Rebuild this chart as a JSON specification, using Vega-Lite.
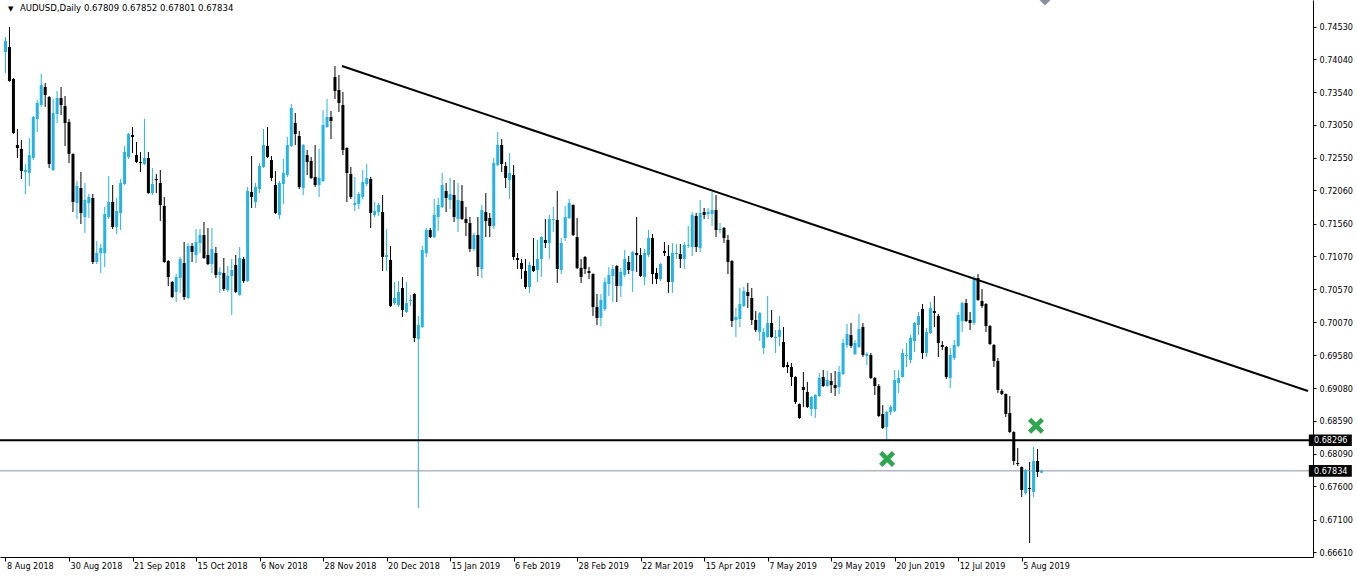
{
"$schema": "https://vega.github.io/schema/vega-lite/v6.json",
"width": 1313,
"height": 557,
"padding": {"left": 0, "top": 0, "right": 44, "bottom": 20},
"autosize": {"type": "none"},
"background": "white",
"config": {
  "view": {"stroke": null},
  "axis": {"grid": false, "domainColor": "#000000", "tickColor": "#000000", "labelColor": "#000000", "labelFont": "DejaVu Sans Condensed, Liberation Sans, sans-serif", "labelFontSize": 9, "domainWidth": 1, "tickWidth": 1, "labelOverlap": false}
},
"datasets": {
  "candles": [
{"k":0,"o":0.74146,"h":0.74372,"l":0.7383,"c":0.74312},
{"k":1,"o":0.74222,"h":0.74523,"l":0.737,"c":0.73709},
{"k":2,"o":0.73739,"h":0.73755,"l":0.72911,"c":0.72926},
{"k":3,"o":0.72745,"h":0.72986,"l":0.72549,"c":0.727},
{"k":4,"o":0.72685,"h":0.7282,"l":0.72232,"c":0.72353},
{"k":5,"o":0.72338,"h":0.72458,"l":0.72006,"c":0.72368},
{"k":6,"o":0.72323,"h":0.7285,"l":0.72127,"c":0.72594},
{"k":7,"o":0.72549,"h":0.73182,"l":0.72519,"c":0.73167},
{"k":8,"o":0.73137,"h":0.73423,"l":0.72941,"c":0.73378},
{"k":9,"o":0.73348,"h":0.73815,"l":0.73318,"c":0.73649},
{"k":10,"o":0.73619,"h":0.73679,"l":0.73318,"c":0.73498},
{"k":11,"o":0.73468,"h":0.73483,"l":0.72398,"c":0.72458},
{"k":12,"o":0.72368,"h":0.73438,"l":0.72353,"c":0.73227},
{"k":13,"o":0.73212,"h":0.73559,"l":0.73076,"c":0.73453},
{"k":14,"o":0.73453,"h":0.73619,"l":0.73197,"c":0.73348},
{"k":15,"o":0.73333,"h":0.73483,"l":0.7273,"c":0.73076},
{"k":16,"o":0.73091,"h":0.73137,"l":0.72474,"c":0.72609},
{"k":17,"o":0.72609,"h":0.7262,"l":0.71735,"c":0.71886},
{"k":18,"o":0.71871,"h":0.72202,"l":0.7163,"c":0.72127},
{"k":19,"o":0.72097,"h":0.72338,"l":0.71554,"c":0.7172},
{"k":20,"o":0.7166,"h":0.72172,"l":0.71419,"c":0.71916},
{"k":21,"o":0.71871,"h":0.72006,"l":0.71645,"c":0.71961},
{"k":22,"o":0.71946,"h":0.72006,"l":0.70951,"c":0.70981},
{"k":23,"o":0.70981,"h":0.71298,"l":0.70951,"c":0.71117},
{"k":24,"o":0.71117,"h":0.71253,"l":0.70816,"c":0.71193},
{"k":25,"o":0.71117,"h":0.71811,"l":0.70906,"c":0.71705},
{"k":26,"o":0.7166,"h":0.72278,"l":0.7163,"c":0.71886},
{"k":27,"o":0.71886,"h":0.72142,"l":0.71479,"c":0.71509},
{"k":28,"o":0.71509,"h":0.71946,"l":0.71404,"c":0.7175},
{"k":29,"o":0.7172,"h":0.72232,"l":0.71464,"c":0.72172},
{"k":30,"o":0.72157,"h":0.7273,"l":0.72142,"c":0.72639},
{"k":31,"o":0.72564,"h":0.72926,"l":0.72534,"c":0.72911},
{"k":32,"o":0.72896,"h":0.73016,"l":0.72624,"c":0.72865},
{"k":33,"o":0.72594,"h":0.7279,"l":0.72474,"c":0.72489},
{"k":34,"o":0.72489,"h":0.72639,"l":0.72338,"c":0.72474},
{"k":35,"o":0.72458,"h":0.73137,"l":0.72443,"c":0.72549},
{"k":36,"o":0.72549,"h":0.72639,"l":0.7201,"c":0.72021},
{"k":37,"o":0.72021,"h":0.72398,"l":0.71991,"c":0.72157},
{"k":38,"o":0.72232,"h":0.72308,"l":0.72021,"c":0.72217},
{"k":39,"o":0.72172,"h":0.72368,"l":0.716,"c":0.71841},
{"k":40,"o":0.71826,"h":0.71961,"l":0.7097,"c":0.70981},
{"k":41,"o":0.70997,"h":0.7101,"l":0.7062,"c":0.70756},
{"k":42,"o":0.7068,"h":0.70695,"l":0.7044,"c":0.70454},
{"k":43,"o":0.7053,"h":0.70801,"l":0.70379,"c":0.70756},
{"k":44,"o":0.70741,"h":0.71057,"l":0.70515,"c":0.71027},
{"k":45,"o":0.70966,"h":0.71283,"l":0.70409,"c":0.70454},
{"k":46,"o":0.70439,"h":0.71268,"l":0.70424,"c":0.71223},
{"k":47,"o":0.71223,"h":0.71268,"l":0.70981,"c":0.71133},
{"k":48,"o":0.71087,"h":0.71479,"l":0.70966,"c":0.71283},
{"k":49,"o":0.71268,"h":0.71479,"l":0.71117,"c":0.71389},
{"k":50,"o":0.71389,"h":0.71585,"l":0.71027,"c":0.71042},
{"k":51,"o":0.71087,"h":0.71494,"l":0.70936,"c":0.70951},
{"k":52,"o":0.70951,"h":0.71494,"l":0.70816,"c":0.71178},
{"k":53,"o":0.71117,"h":0.71208,"l":0.70741,"c":0.70786},
{"k":54,"o":0.70786,"h":0.70906,"l":0.70515,"c":0.70831},
{"k":55,"o":0.70816,"h":0.71042,"l":0.70545,"c":0.70575},
{"k":56,"o":0.7056,"h":0.70921,"l":0.7053,"c":0.70771},
{"k":57,"o":0.70771,"h":0.71027,"l":0.70183,"c":0.70861},
{"k":58,"o":0.70936,"h":0.71087,"l":0.70515,"c":0.7053},
{"k":59,"o":0.70485,"h":0.71208,"l":0.70475,"c":0.71042},
{"k":60,"o":0.71027,"h":0.71057,"l":0.70665,"c":0.70696},
{"k":61,"o":0.70696,"h":0.72112,"l":0.7068,"c":0.72052},
{"k":62,"o":0.72036,"h":0.72579,"l":0.71796,"c":0.71961},
{"k":63,"o":0.71886,"h":0.72172,"l":0.71796,"c":0.72112},
{"k":64,"o":0.72082,"h":0.72474,"l":0.72021,"c":0.72428},
{"k":65,"o":0.72413,"h":0.72986,"l":0.724,"c":0.72745},
{"k":66,"o":0.7273,"h":0.73016,"l":0.72549,"c":0.72564},
{"k":67,"o":0.72519,"h":0.72579,"l":0.72202,"c":0.72248},
{"k":68,"o":0.72142,"h":0.72353,"l":0.71705,"c":0.7172},
{"k":69,"o":0.7169,"h":0.72202,"l":0.7163,"c":0.72172},
{"k":70,"o":0.72157,"h":0.72534,"l":0.71856,"c":0.72323},
{"k":71,"o":0.72293,"h":0.72865,"l":0.72263,"c":0.72745},
{"k":72,"o":0.7273,"h":0.73363,"l":0.72715,"c":0.73303},
{"k":73,"o":0.73076,"h":0.73227,"l":0.72745,"c":0.72911},
{"k":74,"o":0.7288,"h":0.72956,"l":0.72082,"c":0.72112},
{"k":75,"o":0.72097,"h":0.7276,"l":0.71991,"c":0.72745},
{"k":76,"o":0.72594,"h":0.7267,"l":0.72293,"c":0.72489},
{"k":77,"o":0.72504,"h":0.72564,"l":0.72232,"c":0.72248},
{"k":78,"o":0.72263,"h":0.72745,"l":0.72112,"c":0.72142},
{"k":79,"o":0.72142,"h":0.72685,"l":0.71961,"c":0.72248},
{"k":80,"o":0.72202,"h":0.73272,"l":0.72187,"c":0.73046},
{"k":81,"o":0.73016,"h":0.73438,"l":0.73005,"c":0.73167},
{"k":82,"o":0.73167,"h":0.73257,"l":0.72835,"c":0.73107},
{"k":83,"o":0.7377,"h":0.73935,"l":0.73438,"c":0.73559},
{"k":84,"o":0.73574,"h":0.738,"l":0.73242,"c":0.73378},
{"k":85,"o":0.73348,"h":0.73544,"l":0.72594,"c":0.7267},
{"k":86,"o":0.727,"h":0.7271,"l":0.71886,"c":0.72323},
{"k":87,"o":0.72308,"h":0.72413,"l":0.71931,"c":0.71961},
{"k":88,"o":0.71841,"h":0.72263,"l":0.7175,"c":0.71871},
{"k":89,"o":0.71856,"h":0.72036,"l":0.7178,"c":0.72006},
{"k":90,"o":0.71961,"h":0.72368,"l":0.71931,"c":0.72187},
{"k":91,"o":0.72157,"h":0.72458,"l":0.72127,"c":0.72248},
{"k":92,"o":0.72232,"h":0.72263,"l":0.71494,"c":0.7172},
{"k":93,"o":0.7169,"h":0.71886,"l":0.7166,"c":0.7175},
{"k":94,"o":0.71735,"h":0.71871,"l":0.71675,"c":0.71841},
{"k":95,"o":0.71735,"h":0.71991,"l":0.70846,"c":0.71057},
{"k":96,"o":0.71057,"h":0.71479,"l":0.70846,"c":0.71087},
{"k":97,"o":0.71012,"h":0.71223,"l":0.70303,"c":0.70318},
{"k":98,"o":0.70364,"h":0.7068,"l":0.70334,"c":0.70439},
{"k":99,"o":0.70334,"h":0.70696,"l":0.70303,"c":0.7053},
{"k":100,"o":0.7059,"h":0.70756,"l":0.70153,"c":0.70258},
{"k":101,"o":0.70228,"h":0.7068,"l":0.70213,"c":0.70364},
{"k":102,"o":0.70394,"h":0.70485,"l":0.70318,"c":0.70409},
{"k":103,"o":0.705,"h":0.7051,"l":0.69776,"c":0.69837},
{"k":104,"o":0.69822,"h":0.70168,"l":0.67274,"c":0.70032},
{"k":105,"o":0.70002,"h":0.71223,"l":0.69987,"c":0.71163},
{"k":106,"o":0.71117,"h":0.71494,"l":0.71057,"c":0.71464},
{"k":107,"o":0.71464,"h":0.71494,"l":0.71343,"c":0.71358},
{"k":108,"o":0.71358,"h":0.71931,"l":0.71343,"c":0.7169},
{"k":109,"o":0.7166,"h":0.71946,"l":0.71449,"c":0.71841},
{"k":110,"o":0.71811,"h":0.72323,"l":0.71796,"c":0.72142},
{"k":111,"o":0.72052,"h":0.72172,"l":0.71735,"c":0.71946},
{"k":112,"o":0.71916,"h":0.72248,"l":0.7178,"c":0.72006},
{"k":113,"o":0.71991,"h":0.72217,"l":0.71585,"c":0.7166},
{"k":114,"o":0.7163,"h":0.72172,"l":0.71434,"c":0.71916},
{"k":115,"o":0.71901,"h":0.72142,"l":0.71615,"c":0.7163},
{"k":116,"o":0.7163,"h":0.71811,"l":0.71373,"c":0.7157},
{"k":117,"o":0.7157,"h":0.7166,"l":0.71133,"c":0.71178},
{"k":118,"o":0.71178,"h":0.71419,"l":0.71148,"c":0.71389},
{"k":119,"o":0.71389,"h":0.7166,"l":0.70771,"c":0.70906},
{"k":120,"o":0.70876,"h":0.71841,"l":0.70741,"c":0.71765},
{"k":121,"o":0.71735,"h":0.72021,"l":0.71358,"c":0.716},
{"k":122,"o":0.71645,"h":0.7172,"l":0.71358,"c":0.71524},
{"k":123,"o":0.71524,"h":0.72549,"l":0.71479,"c":0.72474},
{"k":124,"o":0.72443,"h":0.72941,"l":0.72428,"c":0.72745},
{"k":125,"o":0.72745,"h":0.72835,"l":0.72338,"c":0.72458},
{"k":126,"o":0.72428,"h":0.72489,"l":0.72097,"c":0.72248},
{"k":127,"o":0.72217,"h":0.72624,"l":0.71931,"c":0.72323},
{"k":128,"o":0.72293,"h":0.72443,"l":0.71012,"c":0.71057},
{"k":129,"o":0.71042,"h":0.71117,"l":0.70876,"c":0.71012},
{"k":130,"o":0.70966,"h":0.71027,"l":0.70726,"c":0.70876},
{"k":131,"o":0.70846,"h":0.71027,"l":0.70575,"c":0.70605},
{"k":132,"o":0.70605,"h":0.70981,"l":0.70515,"c":0.70936},
{"k":133,"o":0.70921,"h":0.71343,"l":0.70831,"c":0.70846},
{"k":134,"o":0.70861,"h":0.71313,"l":0.7068,"c":0.71027},
{"k":135,"o":0.71027,"h":0.7137,"l":0.70756,"c":0.71358},
{"k":136,"o":0.71313,"h":0.7163,"l":0.71193,"c":0.71268},
{"k":137,"o":0.71268,"h":0.7169,"l":0.71027,"c":0.7163},
{"k":138,"o":0.71615,"h":0.71811,"l":0.71434,"c":0.7163},
{"k":139,"o":0.71615,"h":0.72052,"l":0.70665,"c":0.70876},
{"k":140,"o":0.70861,"h":0.71343,"l":0.70801,"c":0.71268},
{"k":141,"o":0.71343,"h":0.71826,"l":0.71298,"c":0.7166},
{"k":142,"o":0.71645,"h":0.71931,"l":0.7163,"c":0.71871},
{"k":143,"o":0.71841,"h":0.7185,"l":0.71373,"c":0.71389},
{"k":144,"o":0.71358,"h":0.71645,"l":0.70876,"c":0.70891},
{"k":145,"o":0.70891,"h":0.71027,"l":0.70665,"c":0.70756},
{"k":146,"o":0.71057,"h":0.71072,"l":0.70801,"c":0.70876},
{"k":147,"o":0.70846,"h":0.70906,"l":0.70726,"c":0.70816},
{"k":148,"o":0.70801,"h":0.7081,"l":0.70168,"c":0.70303},
{"k":149,"o":0.70303,"h":0.705,"l":0.70032,"c":0.70138},
{"k":150,"o":0.70138,"h":0.705,"l":0.70017,"c":0.70409},
{"k":151,"o":0.70273,"h":0.70741,"l":0.70243,"c":0.7068},
{"k":152,"o":0.7065,"h":0.70906,"l":0.70469,"c":0.70786},
{"k":153,"o":0.70771,"h":0.70936,"l":0.70379,"c":0.70876},
{"k":154,"o":0.70921,"h":0.70936,"l":0.70379,"c":0.7062},
{"k":155,"o":0.7062,"h":0.70891,"l":0.70454,"c":0.70831},
{"k":156,"o":0.70786,"h":0.71163,"l":0.70756,"c":0.71027},
{"k":157,"o":0.70981,"h":0.71072,"l":0.70801,"c":0.70861},
{"k":158,"o":0.70846,"h":0.71148,"l":0.7053,"c":0.71133},
{"k":159,"o":0.71117,"h":0.7166,"l":0.70831,"c":0.71087},
{"k":160,"o":0.71087,"h":0.71193,"l":0.70756,"c":0.70771},
{"k":161,"o":0.70756,"h":0.71178,"l":0.70635,"c":0.71117},
{"k":162,"o":0.71087,"h":0.71464,"l":0.71057,"c":0.71343},
{"k":163,"o":0.71343,"h":0.71404,"l":0.7065,"c":0.70801},
{"k":164,"o":0.70816,"h":0.70891,"l":0.7065,"c":0.70726},
{"k":165,"o":0.70726,"h":0.70966,"l":0.70696,"c":0.70951},
{"k":166,"o":0.71148,"h":0.71283,"l":0.71072,"c":0.71117},
{"k":167,"o":0.71072,"h":0.71238,"l":0.70515,"c":0.7068},
{"k":168,"o":0.7068,"h":0.71268,"l":0.70515,"c":0.71117},
{"k":169,"o":0.71102,"h":0.71253,"l":0.71027,"c":0.71117},
{"k":170,"o":0.71102,"h":0.71253,"l":0.70891,"c":0.71027},
{"k":171,"o":0.71027,"h":0.71283,"l":0.70876,"c":0.71238},
{"k":172,"o":0.71223,"h":0.71524,"l":0.71193,"c":0.71238},
{"k":173,"o":0.71208,"h":0.71735,"l":0.71072,"c":0.7169},
{"k":174,"o":0.71675,"h":0.7172,"l":0.71133,"c":0.71208},
{"k":175,"o":0.71193,"h":0.71916,"l":0.71133,"c":0.7172},
{"k":176,"o":0.71735,"h":0.71796,"l":0.7163,"c":0.7169},
{"k":177,"o":0.71705,"h":0.71796,"l":0.7163,"c":0.71735},
{"k":178,"o":0.71705,"h":0.72036,"l":0.71524,"c":0.71765},
{"k":179,"o":0.71765,"h":0.71991,"l":0.71358,"c":0.71464},
{"k":180,"o":0.71464,"h":0.7157,"l":0.71419,"c":0.71479},
{"k":181,"o":0.71494,"h":0.71509,"l":0.71268,"c":0.71343},
{"k":182,"o":0.71313,"h":0.71389,"l":0.70801,"c":0.70981},
{"k":183,"o":0.70997,"h":0.71012,"l":0.70002,"c":0.70093},
{"k":184,"o":0.70108,"h":0.70288,"l":0.69852,"c":0.70153},
{"k":185,"o":0.70123,"h":0.7059,"l":0.70002,"c":0.70349},
{"k":186,"o":0.70318,"h":0.70605,"l":0.70303,"c":0.70545},
{"k":187,"o":0.7053,"h":0.70665,"l":0.70288,"c":0.70469},
{"k":188,"o":0.70439,"h":0.7059,"l":0.70032,"c":0.70108},
{"k":189,"o":0.70108,"h":0.70243,"l":0.69927,"c":0.69957},
{"k":190,"o":0.69927,"h":0.70228,"l":0.69791,"c":0.70213},
{"k":191,"o":0.69686,"h":0.69987,"l":0.69595,"c":0.69927},
{"k":192,"o":0.69852,"h":0.70469,"l":0.6984,"c":0.70062},
{"k":193,"o":0.70062,"h":0.70258,"l":0.6984,"c":0.69852},
{"k":194,"o":0.69837,"h":0.69957,"l":0.6961,"c":0.69852},
{"k":195,"o":0.69852,"h":0.70168,"l":0.69716,"c":0.69957},
{"k":196,"o":0.69776,"h":0.70002,"l":0.6939,"c":0.69399},
{"k":197,"o":0.69429,"h":0.69474,"l":0.69309,"c":0.69399},
{"k":198,"o":0.69399,"h":0.69459,"l":0.69113,"c":0.69249},
{"k":199,"o":0.69249,"h":0.6926,"l":0.68842,"c":0.68872},
{"k":200,"o":0.68842,"h":0.6885,"l":0.68616,"c":0.68631},
{"k":201,"o":0.69098,"h":0.69324,"l":0.68797,"c":0.69053},
{"k":202,"o":0.69023,"h":0.69173,"l":0.68781,"c":0.68797},
{"k":203,"o":0.68766,"h":0.68962,"l":0.68661,"c":0.68947},
{"k":204,"o":0.68766,"h":0.6899,"l":0.68631,"c":0.68977},
{"k":205,"o":0.68962,"h":0.69309,"l":0.68947,"c":0.69234},
{"k":206,"o":0.69249,"h":0.69354,"l":0.69098,"c":0.69113},
{"k":207,"o":0.69113,"h":0.69339,"l":0.69098,"c":0.69203},
{"k":208,"o":0.69188,"h":0.69309,"l":0.69008,"c":0.69128},
{"k":209,"o":0.69128,"h":0.69339,"l":0.68962,"c":0.69083},
{"k":210,"o":0.69098,"h":0.69414,"l":0.68992,"c":0.69324},
{"k":211,"o":0.69294,"h":0.69822,"l":0.69279,"c":0.69761},
{"k":212,"o":0.69731,"h":0.70047,"l":0.69686,"c":0.69897},
{"k":213,"o":0.69882,"h":0.70062,"l":0.69686,"c":0.69716},
{"k":214,"o":0.69595,"h":0.69806,"l":0.6958,"c":0.69761},
{"k":215,"o":0.69701,"h":0.70198,"l":0.6969,"c":0.69972},
{"k":216,"o":0.70002,"h":0.70062,"l":0.6955,"c":0.6958},
{"k":217,"o":0.69565,"h":0.69625,"l":0.69429,"c":0.69595},
{"k":218,"o":0.6958,"h":0.6961,"l":0.69218,"c":0.69234},
{"k":219,"o":0.69234,"h":0.69249,"l":0.68977,"c":0.69113},
{"k":220,"o":0.69113,"h":0.69143,"l":0.68646,"c":0.68661},
{"k":221,"o":0.68691,"h":0.68827,"l":0.68465,"c":0.6848},
{"k":222,"o":0.68495,"h":0.68736,"l":0.683,"c":0.68721},
{"k":223,"o":0.68721,"h":0.68827,"l":0.68676,"c":0.68797},
{"k":224,"o":0.68736,"h":0.69354,"l":0.68721,"c":0.69203},
{"k":225,"o":0.69158,"h":0.69354,"l":0.69008,"c":0.69234},
{"k":226,"o":0.69249,"h":0.69671,"l":0.6924,"c":0.6961},
{"k":227,"o":0.69565,"h":0.69761,"l":0.69399,"c":0.6958},
{"k":228,"o":0.69505,"h":0.69882,"l":0.69459,"c":0.69837},
{"k":229,"o":0.69791,"h":0.70077,"l":0.69625,"c":0.70062},
{"k":230,"o":0.70032,"h":0.70228,"l":0.69882,"c":0.70168},
{"k":231,"o":0.70273,"h":0.70349,"l":0.6952,"c":0.6961},
{"k":232,"o":0.6961,"h":0.69987,"l":0.6955,"c":0.69927},
{"k":233,"o":0.69912,"h":0.70379,"l":0.69897,"c":0.70288},
{"k":234,"o":0.70243,"h":0.70469,"l":0.70002,"c":0.70213},
{"k":235,"o":0.70168,"h":0.70198,"l":0.6955,"c":0.69761},
{"k":236,"o":0.69731,"h":0.69791,"l":0.69656,"c":0.69701},
{"k":237,"o":0.69701,"h":0.69716,"l":0.69218,"c":0.69249},
{"k":238,"o":0.69234,"h":0.69686,"l":0.69083,"c":0.6958},
{"k":239,"o":0.69535,"h":0.69806,"l":0.69505,"c":0.69731},
{"k":240,"o":0.69716,"h":0.70228,"l":0.69701,"c":0.70183},
{"k":241,"o":0.70093,"h":0.70379,"l":0.69927,"c":0.70364},
{"k":242,"o":0.70364,"h":0.70424,"l":0.70077,"c":0.70093},
{"k":243,"o":0.70108,"h":0.70228,"l":0.69957,"c":0.70062},
{"k":244,"o":0.70062,"h":0.70771,"l":0.70032,"c":0.70741},
{"k":245,"o":0.70741,"h":0.70801,"l":0.70394,"c":0.70409},
{"k":246,"o":0.70394,"h":0.70575,"l":0.70288,"c":0.70318},
{"k":247,"o":0.70349,"h":0.70364,"l":0.69927,"c":0.70017},
{"k":248,"o":0.70017,"h":0.70032,"l":0.69731,"c":0.69746},
{"k":249,"o":0.69731,"h":0.69746,"l":0.69399,"c":0.6949},
{"k":250,"o":0.6949,"h":0.69535,"l":0.69008,"c":0.69053},
{"k":251,"o":0.69038,"h":0.69068,"l":0.68977,"c":0.68992},
{"k":252,"o":0.68992,"h":0.69,"l":0.68646,"c":0.68691},
{"k":253,"o":0.68706,"h":0.68962,"l":0.68405,"c":0.6842},
{"k":254,"o":0.6842,"h":0.6843,"l":0.67923,"c":0.67983},
{"k":255,"o":0.67953,"h":0.68179,"l":0.67907,"c":0.67938},
{"k":256,"o":0.67892,"h":0.679,"l":0.6744,"c":0.67546},
{"k":257,"o":0.675,"h":0.67862,"l":0.6747,"c":0.67847},
{"k":258,"o":0.67576,"h":0.67968,"l":0.66747,"c":0.67561},
{"k":259,"o":0.67516,"h":0.68194,"l":0.6744,"c":0.67983},
{"k":260,"o":0.67983,"h":0.68164,"l":0.67742,"c":0.67817},
{"k":261,"o":0.67809,"h":0.67852,"l":0.67801,"c":0.67834}
  ],
  "trend": [{"k": 84.75, "p": 0.73935}, {"k": 328.125, "p": 0.69038}],
  "marks": [{"k": 222.1, "p": 0.68013}, {"k": 259.6, "p": 0.68515}],
  "levels": [{"p": 0.68296, "label": "0.68296"}],
  "price": [{"p": 0.67834, "label": "0.67834"}],
  "header": [{"text": "AUDUSD,Daily  0.67809 0.67852 0.67801 0.67834"}]
},
"layer": [
  {
    "data": {"name": "candles"},
    "mark": {"type": "rule", "strokeWidth": 1},
    "encoding": {
      "x": {"field": "k", "type": "quantitative",
        "scale": {"domain": [-0.125, 328.125], "nice": false, "zero": false},
        "axis": {"orient": "bottom", "title": null, "values": [0,16,32,48,64,80,96,112,128,144,160,176,192,208,224,240,256], "tickCount": 40,
          "labelExpr": "['8 Aug 2018','30 Aug 2018','21 Sep 2018','15 Oct 2018','6 Nov 2018','28 Nov 2018','20 Dec 2018','15 Jan 2019','6 Feb 2019','28 Feb 2019','22 Mar 2019','15 Apr 2019','7 May 2019','29 May 2019','20 Jun 2019','12 Jul 2019','5 Aug 2019'][round(datum.value/16)]",
          "labelAlign": "left", "labelBaseline": "top", "labelOffset": 1, "labelPadding": 0, "tickSize": 4, "labelOverlap": false, "labelFlush": false}},
      "y": {"field": "l", "type": "quantitative",
        "scale": {"domain": [0.66536, 0.7493], "nice": false, "zero": false},
        "axis": {"orient": "right", "title": null, "values": [0.7453,0.7404,0.7354,0.7305,0.7255,0.7206,0.7156,0.7107,0.7057,0.7007,0.6958,0.6908,0.6859,0.6809,0.676,0.671,0.6661], "tickCount": 40,
          "format": ".5f", "tickSize": 3, "labelPadding": 3, "labelOverlap": false, "labelFlush": false}},
      "y2": {"field": "h"},
      "color": {"condition": {"test": "datum.c >= datum.o", "value": "#22b4e8"}, "value": "#000000"}
    }
  },
  {
    "data": {"name": "price"},
    "mark": {"type": "rule", "color": "#8a90a8", "strokeWidth": 1},
    "encoding": {"y": {"field": "p", "type": "quantitative"}}
  },
  {
    "data": {"name": "candles"},
    "mark": {"type": "bar", "width": 3, "strokeWidth": 0},
    "encoding": {
      "x": {"field": "k", "type": "quantitative"},
      "y": {"field": "o", "type": "quantitative"},
      "y2": {"field": "c"},
      "color": {"condition": {"test": "datum.c >= datum.o", "value": "#22b4e8"}, "value": "#000000"}
    }
  },
  {
    "data": {"name": "levels"},
    "mark": {"type": "rule", "color": "#000000", "strokeWidth": 2},
    "encoding": {"y": {"field": "p", "type": "quantitative"}}
  },
  {
    "data": {"name": "trend"},
    "mark": {"type": "line", "color": "#000000", "strokeWidth": 2},
    "encoding": {
      "x": {"field": "k", "type": "quantitative"},
      "y": {"field": "p", "type": "quantitative"}
    }
  },
  {
    "data": {"name": "marks"},
    "mark": {"type": "point", "shape": "M-1,-0.6L-0.6,-1L0,-0.4L0.6,-1L1,-0.6L0.4,0L1,0.6L0.6,1L0,0.4L-0.6,1L-1,0.6L-0.4,0Z", "filled": true, "color": "#2aa84e", "size": 256, "opacity": 1},
    "encoding": {
      "x": {"field": "k", "type": "quantitative"},
      "y": {"field": "p", "type": "quantitative"}
    }
  },
  {
    "data": {"name": "levels"},
    "mark": {"type": "point", "shape": "M-1,-0.27L1,-0.27L1,0.27L-1,0.27Z", "filled": true, "color": "#000000", "size": 1849, "opacity": 1},
    "encoding": {
      "x": {"datum": 333.75, "type": "quantitative"},
      "y": {"field": "p", "type": "quantitative"}
    }
  },
  {
    "data": {"name": "price"},
    "mark": {"type": "point", "shape": "M-1,-0.27L1,-0.27L1,0.27L-1,0.27Z", "filled": true, "color": "#000000", "size": 1849, "opacity": 1},
    "encoding": {
      "x": {"datum": 333.75, "type": "quantitative"},
      "y": {"field": "p", "type": "quantitative"}
    }
  },
  {
    "data": {"name": "levels"},
    "mark": {"type": "text", "color": "#ffffff", "font": "DejaVu Sans Condensed, Liberation Sans, sans-serif", "fontSize": 9, "align": "left", "baseline": "middle"},
    "encoding": {
      "x": {"datum": 329.625, "type": "quantitative"},
      "y": {"field": "p", "type": "quantitative"},
      "text": {"field": "label"}
    }
  },
  {
    "data": {"name": "price"},
    "mark": {"type": "text", "color": "#ffffff", "font": "DejaVu Sans Condensed, Liberation Sans, sans-serif", "fontSize": 9, "align": "left", "baseline": "middle"},
    "encoding": {
      "x": {"datum": 329.625, "type": "quantitative"},
      "y": {"field": "p", "type": "quantitative"},
      "text": {"field": "label"}
    }
  },
  {
    "data": {"name": "header"},
    "mark": {"type": "text", "color": "#000000", "font": "DejaVu Sans Condensed, Liberation Sans, sans-serif", "fontSize": 9.5, "align": "left", "baseline": "middle"},
    "encoding": {
      "x": {"datum": 3.625, "type": "quantitative"},
      "y": {"datum": 0.74802, "type": "quantitative"},
      "text": {"field": "text"}
    }
  },
  {
    "data": {"name": "header"},
    "mark": {"type": "text", "color": "#000000", "font": "DejaVu Sans", "fontSize": 7, "align": "left", "baseline": "middle", "text": "▼"},
    "encoding": {
      "x": {"datum": 0.6, "type": "quantitative"},
      "y": {"datum": 0.74787, "type": "quantitative"}
    }
  },
  {
    "data": {"name": "header"},
    "mark": {"type": "point", "shape": "diamond", "filled": true, "color": "#8c8e9c", "size": 121, "opacity": 1},
    "encoding": {
      "x": {"datum": 261.875, "type": "quantitative"},
      "y": {"datum": 0.7493, "type": "quantitative"}
    }
  }
]
}
